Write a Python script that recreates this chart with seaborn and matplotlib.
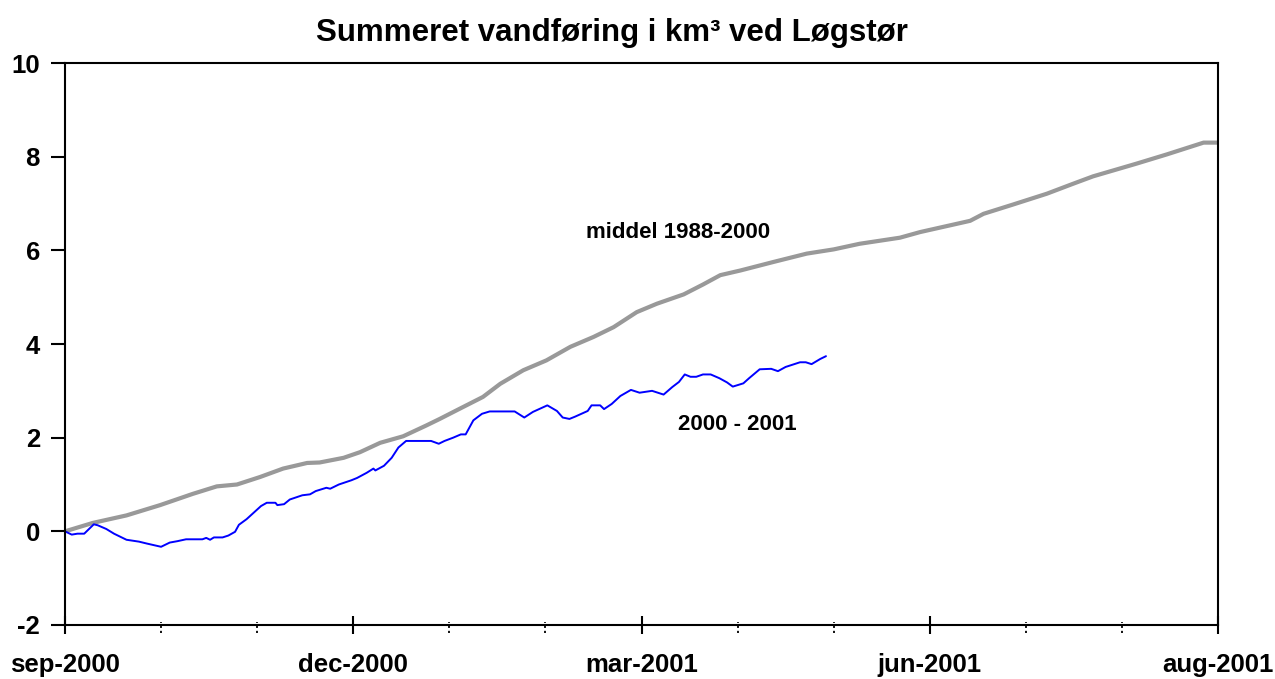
import pandas as pd
import seaborn as sns
import matplotlib.pyplot as plt
import matplotlib.transforms as mtransforms
import numpy as np

# x = months since start of sep-2000
mid_month = [0, 0.29, 0.64, 0.99, 1.33, 1.58, 1.79, 2.03, 2.27, 2.52, 2.65, 2.90, 3.07, 3.28,
             3.52, 3.76, 3.90, 4.11, 4.35, 4.53, 4.77, 5.01, 5.26, 5.50, 5.71, 5.95, 6.16,
             6.44, 6.64, 6.82, 7.03, 7.37, 7.72, 8.0, 8.27, 8.69, 8.90, 9.42, 9.56, 9.87,
             10.22, 10.49, 10.70, 11.15, 11.47, 11.85, 12.0]
mid_value = [0.0, 0.18, 0.34, 0.56, 0.80, 0.96, 1.0, 1.16, 1.34, 1.46, 1.47, 1.57, 1.69, 1.89,
             2.03, 2.26, 2.40, 2.62, 2.87, 3.15, 3.44, 3.65, 3.94, 4.15, 4.36, 4.68, 4.86,
             5.06, 5.27, 5.47, 5.57, 5.75, 5.93, 6.02, 6.14, 6.27, 6.39, 6.63, 6.78, 6.98,
             7.21, 7.42, 7.58, 7.85, 8.05, 8.30, 8.30]

obs_month = [0.0, 0.07, 0.13, 0.20, 0.30, 0.34, 0.43, 0.51, 0.64, 0.77, 0.85, 1.0, 1.09, 1.17,
             1.26, 1.43, 1.47, 1.51, 1.55, 1.64, 1.70, 1.77, 1.81, 1.89, 2.04, 2.10, 2.19, 2.21,
             2.28, 2.34, 2.47, 2.55, 2.61, 2.72, 2.76, 2.85, 2.98, 3.04, 3.14, 3.21, 3.23, 3.32,
             3.40, 3.47, 3.55, 3.81, 3.89, 3.95, 4.04, 4.12, 4.17, 4.25, 4.34, 4.42, 4.68, 4.78,
             4.87, 5.02, 5.12, 5.18, 5.25, 5.31, 5.44, 5.48, 5.57, 5.61, 5.69, 5.78, 5.89, 5.98,
             6.11, 6.17, 6.23, 6.32, 6.39, 6.45, 6.51, 6.57, 6.64, 6.72, 6.81, 6.89, 6.95, 7.06,
             7.12, 7.23, 7.35, 7.42, 7.50, 7.56, 7.65, 7.71, 7.77, 7.86, 7.92]
obs_value = [0.0, -0.07, -0.05, -0.05, 0.15, 0.13, 0.05, -0.05, -0.18, -0.22, -0.26, -0.33, -0.24, -0.21,
             -0.17, -0.17, -0.14, -0.18, -0.13, -0.13, -0.09, -0.01, 0.14, 0.26, 0.54, 0.61, 0.61, 0.56,
             0.58, 0.68, 0.77, 0.79, 0.86, 0.93, 0.91, 1.0, 1.09, 1.14, 1.25, 1.34, 1.30, 1.40,
             1.57, 1.79, 1.93, 1.93, 1.87, 1.93, 2.0, 2.07, 2.07, 2.37, 2.51, 2.56, 2.56, 2.43,
             2.55, 2.69, 2.57, 2.43, 2.40, 2.45, 2.57, 2.69, 2.69, 2.61, 2.72, 2.89, 3.02, 2.96,
             3.0, 2.96, 2.92, 3.08, 3.19, 3.35, 3.30, 3.30, 3.35, 3.35, 3.27, 3.18, 3.09, 3.16,
             3.27, 3.46, 3.47, 3.42, 3.51, 3.55, 3.61, 3.61, 3.57, 3.68, 3.74]

major_ticks = [0, 3, 6, 9, 12]
major_labels = ['sep-2000', 'dec-2000', 'mar-2001', 'jun-2001', 'aug-2001']
minor_ticks = [1, 2, 4, 5, 7, 8, 10, 11]
y_ticks = [-2, 0, 2, 4, 6, 8, 10]

title = 'Summeret vandføring i km³ ved Løgstør'
mid_label = 'middel 1988-2000'
obs_label = '2000 - 2001'

sns.set_style('white')
plt.rcParams['font.family'] = ['Liberation Sans', 'DejaVu Sans']
plt.rcParams['font.weight'] = 'bold'
plt.rcParams['axes.unicode_minus'] = False
plt.rcParams['text.color'] = 'black'
plt.rcParams['xtick.color'] = 'black'
plt.rcParams['ytick.color'] = 'black'

mid = pd.DataFrame({'month': mid_month, 'value': mid_value})
obs = pd.DataFrame({'month': obs_month, 'value': obs_value})

fig = plt.figure(figsize=(12.75, 6.79), dpi=100)
ax = fig.add_axes([65/1275, 54/679, 1153/1275, 562/679])

sns.lineplot(data=mid, x='month', y='value', ax=ax, color='#999999', lw=3.0,
             estimator=None, sort=False)
sns.lineplot(data=obs, x='month', y='value', ax=ax, color='#0000ff', lw=1.4,
             estimator=None, sort=False)

ax.set_xlim(0, 12)
ax.set_ylim(-2, 10)
ax.set_xticks(major_ticks)
ax.set_xticklabels(major_labels)
ax.set_yticks(y_ticks)
ax.set_xlabel('')
ax.set_ylabel('')

ax.tick_params(axis='x', direction='inout', length=13, width=1.5, pad=14,
               labelsize=18.5, bottom=True, colors='black')
ax.tick_params(axis='y', direction='out', length=10, width=1.5, pad=8,
               labelsize=18.5, left=True, colors='black')
for lab in ax.get_xticklabels() + ax.get_yticklabels():
    lab.set_fontweight('bold')

# dotted minor ticks on the time axis
trans = mtransforms.blended_transform_factory(ax.transData, ax.transAxes)
ax.vlines(minor_ticks, -0.014, 0.006, transform=trans, colors='black',
          linestyles=(0, (1.2, 1.6)), lw=1.3, clip_on=False)

for sp in ax.spines.values():
    sp.set_visible(True)
    sp.set_color('black')
    sp.set_linewidth(1.5)

ax.text(6.38, 6.38, mid_label, ha='center', va='center', fontsize=16, fontweight='bold')
ax.text(7.0, 2.28, obs_label, ha='center', va='center', fontsize=16, fontweight='bold')

fig.text(612/1275, 1 - 33/679, title, ha='center', va='center', fontsize=22.5, fontweight='bold')

fig.savefig('out.png', dpi=100)
